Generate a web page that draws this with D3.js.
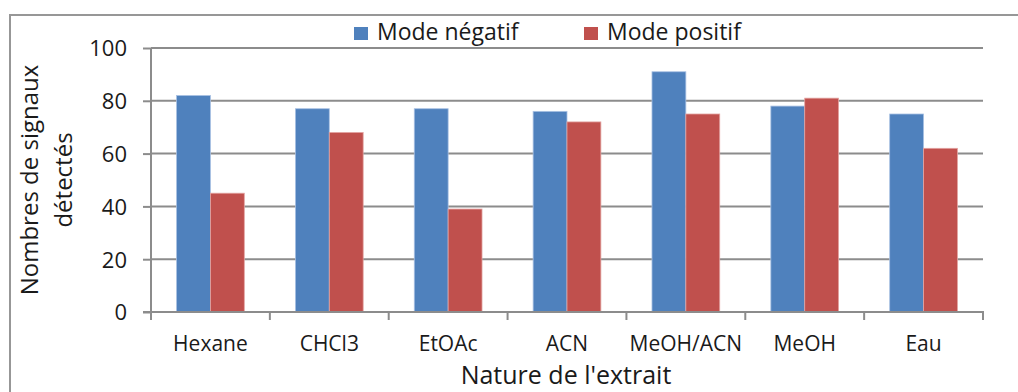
<!DOCTYPE html>
<html>
<head>
<meta charset="utf-8">
<script src="https://cdn.jsdelivr.net/npm/d3@7"></script>
<style>
  html, body { margin: 0; padding: 0; background: #fff; }
  svg { display: block; }
  text { font-family: "Open Sans", "Noto Sans", sans-serif; fill: #1a1a1a; }
</style>
</head>
<body>
<svg id="chart" width="1018" height="392"></svg>
<script>
// Solvent extracts
const categories = ["Hexane", "CHCl3", "EtOAc", "ACN", "MeOH/ACN", "MeOH", "Eau"];
const seriesNames = ["Mode négatif", "Mode positif"];
const negatif = [82, 77, 77, 76, 91, 78, 75];
const positif = [45, 68, 39, 72, 75, 81, 62];
const yTicks = [0, 20, 40, 60, 80, 100];
const colors = ["#4F81BD", "#C0504D"];
const strokes = ["#A9C1E3", "#E3A3A1"];

const svg = d3.select("#chart");
const W = 1018, H = 392;
const plot = { left: 151, right: 983, top: 48, bottom: 312 };

// outer chart frame
svg.append("rect")
  .attr("x", 10).attr("y", 15)
  .attr("width", W + 20).attr("height", H + 20)
  .attr("fill", "none").attr("stroke", "#979797").attr("stroke-width", 2);

const y = d3.scaleLinear().domain([0, 100]).range([plot.bottom, plot.top]);
const x0 = d3.scaleBand().domain(categories)
  .range([plot.left, plot.right]).paddingInner(0.43).paddingOuter(0.215);
const x1 = d3.scaleBand().domain(seriesNames).range([0, x0.bandwidth()]);

// horizontal gridlines
svg.append("g").selectAll("line").data(yTicks.filter(d => d > 0)).join("line")
  .attr("x1", plot.left).attr("x2", plot.right)
  .attr("y1", d => y(d)).attr("y2", d => y(d))
  .attr("stroke", "#8C8C8C").attr("stroke-width", 2);

// bars
const rows = categories.map((c, i) => ({ c, vals: [negatif[i], positif[i]] }));
const groups = svg.append("g").selectAll("g").data(rows).join("g")
  .attr("transform", d => `translate(${x0(d.c)},0)`);
groups.selectAll("rect").data(d => d.vals.map((v, k) => ({ v, k })))
  .join("rect")
  .attr("x", d => x1(seriesNames[d.k]))
  .attr("width", x1.bandwidth())
  .attr("y", d => y(d.v))
  .attr("height", d => y(0) - y(d.v))
  .attr("fill", d => colors[d.k])
  .attr("stroke", d => strokes[d.k]).attr("stroke-width", 0.8);

// y axis
const yAxis = d3.axisLeft(y).tickValues(yTicks).tickSize(8).tickPadding(16);
const gy = svg.append("g").attr("transform", `translate(${plot.left},0)`).call(yAxis);
gy.select(".domain").attr("stroke", "#8C8C8C").attr("stroke-width", 2)
  .attr("d", `M0,${plot.top}V${plot.bottom}`);
gy.selectAll(".tick line").attr("stroke", "#8C8C8C").attr("stroke-width", 2);
gy.selectAll(".tick text").style("font-size", "22px").attr("fill", "#1a1a1a")
  .attr("dy", "0.36em");

// x axis with ticks on category boundaries
const step = x0.step();
const boundaries = d3.range(categories.length + 1).map(i => plot.left + i * step);
const gx = svg.append("g");
gx.append("line").attr("x1", plot.left - 8).attr("x2", plot.right + 1)
  .attr("y1", plot.bottom).attr("y2", plot.bottom)
  .attr("stroke", "#8C8C8C").attr("stroke-width", 2);
gx.selectAll("line.tk").data(boundaries).join("line").attr("class", "tk")
  .attr("x1", d => d).attr("x2", d => d)
  .attr("y1", plot.bottom).attr("y2", plot.bottom + 8)
  .attr("stroke", "#8C8C8C").attr("stroke-width", 2);
gx.selectAll("text").data(categories).join("text")
  .attr("x", d => x0(d) + x0.bandwidth() / 2)
  .attr("y", 351)
  .attr("text-anchor", "middle")
  .style("font-size", "21px")
  .text(d => d);

// axis titles
svg.append("text").attr("x", (plot.left + plot.right) / 2 - 1).attr("y", 384)
  .attr("text-anchor", "middle").style("font-size", "25px")
  .text("Nature de l'extrait");

const yt = svg.append("text")
  .attr("transform", `translate(0,${(plot.top + plot.bottom) / 2}) rotate(-90)`)
  .attr("text-anchor", "middle").style("font-size", "24px");
yt.append("tspan").attr("x", 0).attr("y", 38).text("Nombres de signaux");
yt.append("tspan").attr("x", 0).attr("y", 72).text("détectés");

// legend
const legendX = [354, 584];
const lg = svg.append("g").selectAll("g").data(seriesNames).join("g")
  .attr("transform", (d, i) => `translate(${legendX[i]},0)`);
lg.append("rect").attr("x", 0).attr("y", 27).attr("width", 14).attr("height", 13)
  .attr("fill", (d, i) => colors[i]);
lg.append("text").attr("x", 23).attr("y", 40).style("font-size", "23px").text(d => d);
</script>
</body>
</html>
